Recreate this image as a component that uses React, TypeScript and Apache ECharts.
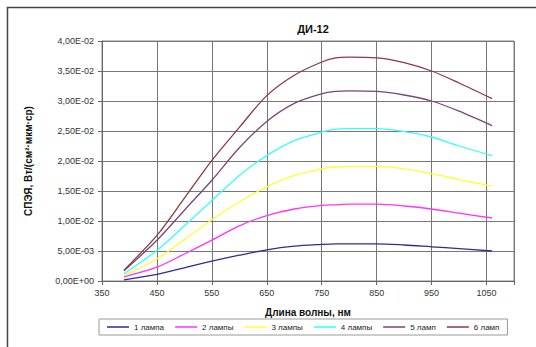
import React, { useEffect, useRef } from "react";
import * as echarts from "echarts";

const wavelengths = [390, 450, 500, 550, 600, 650, 700, 750, 775, 800, 850, 900, 950, 1000, 1060];
const seriesNames = ["1 лампа", "2 лампы", "3 лампы", "4 лампы", "5 ламп", "6 ламп"];
const seriesColors = ["#2e2e8c", "#ff33ff", "#ffff33", "#33ffff", "#7a467a", "#8a3a44"];
const lamp1 = [0.0002, 0.0011, 0.0022, 0.0033, 0.0043, 0.0052, 0.0058, 0.0061, 0.0062, 0.0062, 0.0062, 0.006, 0.0057, 0.0054, 0.005];
const lamp2 = [0.0007, 0.0023, 0.0045, 0.0068, 0.0092, 0.0109, 0.012, 0.0126, 0.0127, 0.0128, 0.0128, 0.0125, 0.012, 0.0113, 0.0105];
const lamp3 = [0.0009, 0.0037, 0.0069, 0.0102, 0.0132, 0.0157, 0.0176, 0.0187, 0.019, 0.0191, 0.0191, 0.0187, 0.0179, 0.0169, 0.0158];
const lamp4 = [0.0012, 0.0051, 0.0092, 0.0134, 0.0176, 0.0209, 0.0234, 0.0248, 0.0253, 0.0254, 0.0254, 0.0249, 0.024, 0.0225, 0.0209];
const lamp5 = [0.0017, 0.0068, 0.0118, 0.0168, 0.0222, 0.0266, 0.0296, 0.0312, 0.0316, 0.0317, 0.0316, 0.031, 0.03, 0.0283, 0.0259];
const lamp6 = [0.0018, 0.0076, 0.0138, 0.0201, 0.0256, 0.0309, 0.0343, 0.0365, 0.0372, 0.0373, 0.0372, 0.0364, 0.035, 0.033, 0.0304];
const allSeries = [lamp1, lamp2, lamp3, lamp4, lamp5, lamp6];
const xStart = 350;
const xEnd = 1100;
const xStep = 100;
const yMax = 0.04;
const yStep = 0.005;

function fmtExp(v: number): string {
  const s = v.toExponential(2);
  const [m, e] = s.split("e");
  const sign = e[0] === "-" ? "-" : "+";
  const digits = e.replace(/[+-]/, "").padStart(2, "0");
  return m.replace(".", ",") + "E" + sign + digits;
}

export default function App() {
  const ref = useRef<HTMLDivElement>(null);
  useEffect(() => {
    if (!ref.current) return;
    const chart = echarts.init(ref.current, undefined, { renderer: "svg" });
    const font = "Liberation Sans, Arial, sans-serif";
    chart.setOption({
      animation: false,
      backgroundColor: "#ffffff",
      textStyle: { fontFamily: font },
      title: {
        text: "ДИ-12",
        left: 308,
        top: 18,
        textAlign: "center",
        textStyle: { fontSize: 11, fontWeight: "bold", color: "#111", fontFamily: font },
      },
      graphic: [
        {
          type: "rect",
          shape: { x: 7.5, y: 7.5, width: 540, height: 350 },
          style: { fill: "none", stroke: "#444", lineWidth: 1.5 },
          silent: true,
        },
      ],
      grid: { left: 102, top: 41, right: 22, bottom: 66, show: true, borderColor: "#888", borderWidth: 1 },
      legend: {
        bottom: 12,
        left: 99,
        width: 398,
        itemGap: 11,
        itemWidth: 22,
        itemHeight: 1.5,
        icon: "rect",
        padding: [4, 8, 4, 8],
        borderColor: "#999",
        borderWidth: 1,
        textStyle: { fontSize: 8, color: "#222", fontFamily: font },
        data: seriesNames,
      },
      xAxis: {
        type: "value",
        min: 0,
        max: xEnd - xStart,
        interval: xStep,
        name: "Длина волны, нм",
        nameLocation: "middle",
        nameGap: 26,
        nameTextStyle: { fontSize: 10, fontWeight: "bold", color: "#111", fontFamily: font },
        axisLine: { lineStyle: { color: "#666" } },
        axisTick: { show: true, length: 4, inside: false, lineStyle: { color: "#666" } },
        axisLabel: {
          fontSize: 9,
          color: "#333",
          margin: 7,
          formatter: (v: number) => (v <= xEnd - xStart - xStep / 2 ? String(v + xStart) : ""),
        },
        splitLine: { show: true, lineStyle: { color: "#777", width: 1 } },
      },
      yAxis: {
        type: "value",
        min: 0,
        max: yMax,
        interval: yStep,
        name: "СПЭЯ, Вт/(см²·мкм·ср)",
        nameLocation: "middle",
        nameGap: 69,
        nameRotate: 90,
        nameTextStyle: { fontSize: 10, fontWeight: "bold", color: "#111", fontFamily: font },
        axisLine: { show: true, lineStyle: { color: "#666" } },
        axisTick: { show: true, length: 4, lineStyle: { color: "#666" } },
        axisLabel: { fontSize: 9, color: "#333", margin: 8, formatter: (v: number) => fmtExp(v) },
        splitLine: { show: true, lineStyle: { color: "#777", width: 1 } },
      },
      series: allSeries.map((vals, i) => ({
        name: seriesNames[i],
        type: "line",
        smooth: 0.3,
        showSymbol: false,
        symbol: "none",
        color: seriesColors[i],
        lineStyle: { width: 1.3, color: seriesColors[i] },
        data: vals.map((v, j) => [wavelengths[j] - xStart, v]),
      })),
    });
    return () => chart.dispose();
  }, []);
  return <div ref={ref} style={{ position: "fixed", left: 0, top: 0, width: 536, height: 347 }} />;
}
